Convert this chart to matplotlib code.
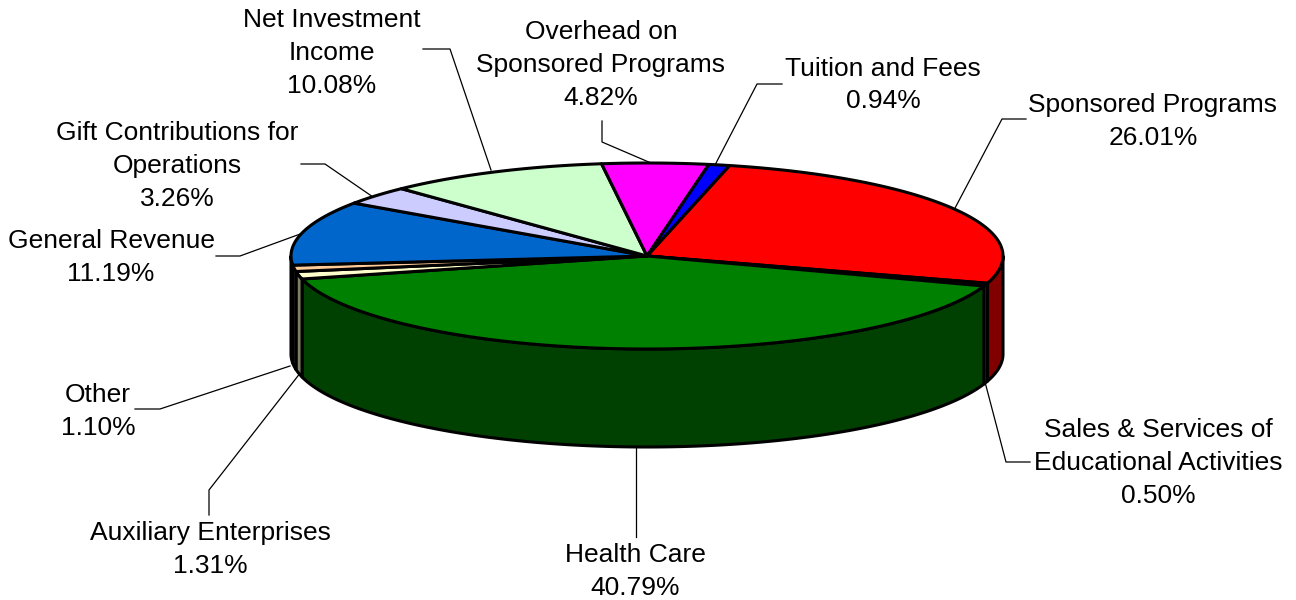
import numpy as np
import matplotlib
matplotlib.use('Agg')
import matplotlib.pyplot as plt

plt.rcParams['font.family'] = ['Liberation Sans', 'DejaVu Sans']

# clockwise order, starting at the Sponsored Programs slice
labels = ['Sponsored Programs', 'Sales & Services of\nEducational Activities', 'Health Care',
          'Auxiliary Enterprises', 'Other', 'General Revenue',
          'Gift Contributions for\nOperations', 'Net Investment\nIncome',
          'Overhead on\nSponsored Programs', 'Tuition and Fees']
shares = [26.01, 0.50, 40.79, 1.31, 1.10, 11.19, 3.26, 10.08, 4.82, 0.94]
top_colors = ['#ff0000', '#ffff99', '#008000', '#ffffcc', '#ffcc99',
              '#0066cc', '#ccccff', '#ccffcc', '#ff00ff', '#0000ff']
wall_colors = ['#800000', '#808000', '#004000', '#808066', '#806650',
               '#003366', '#666680', '#668066', '#800080', '#000080']

label_xy = [(1153, 121.5), (1158, 463), (635, 571.5), (210, 549.5), (98, 411.5),
            (111, 257.5), (177, 166), (332, 53), (601, 65), (883, 85)]
leaders = [[(1026, 119), (1002, 119), (954, 210)],
           [(1030, 462), (1006, 462), (985, 382)],
           [(636, 537), (636, 445)],
           [(209, 515), (209, 490), (301, 372)],
           [(135, 409), (160, 409), (290, 366)],
           [(216, 256), (240, 256), (303, 233)],
           [(301, 164), (325, 164), (373, 197)],
           [(423, 49), (450, 49), (491, 170)],
           [(602, 121), (602, 142), (651, 163)],
           [(782, 84), (757, 84), (715, 165)]]

cx, cy = 647, 256
rx, ry = 356, 93
depth = 98
start = 13.4  # degrees clockwise from 12 o'clock


def arc(a0, a1, dy=0):
    t = np.radians(np.linspace(a0, a1, max(int(abs(a1 - a0) * 2), 2)))
    return cx + rx * np.sin(t), cy - ry * np.cos(t) + dy


fig = plt.figure(figsize=(12.96, 6), dpi=100)
ax = fig.add_axes([0, 0, 1, 1])
ax.set_xlim(0, 1296)
ax.set_ylim(600, 0)
ax.axis('off')

for pts in leaders:
    ax.plot([p[0] for p in pts], [p[1] for p in pts], color='black', lw=0.9, zorder=1)

edges = start + np.cumsum([0] + shares) * 3.6

# side wall, only the front half of the cylinder shows
for i in range(len(shares)):
    a0, a1 = max(edges[i], 90), min(edges[i + 1], 270)
    if a0 >= a1:
        continue
    x1, y1 = arc(a0, a1)
    x2, y2 = arc(a1, a0, depth)
    ax.fill(np.r_[x1, x2], np.r_[y1, y2], facecolor=wall_colors[i], edgecolor='black',
            lw=2.2, joinstyle='round', zorder=2)

# top face
for i in range(len(shares)):
    x, y = arc(edges[i], edges[i + 1])
    ax.fill(np.r_[cx, x], np.r_[cy, y], facecolor=top_colors[i], edgecolor='black',
            lw=2.2, joinstyle='round', zorder=3)

for name, share, (lx, ly) in zip(labels, shares, label_xy):
    ax.text(lx, ly, f'{name}\n{share:.2f}%', ha='center', va='center', fontsize=19,
            linespacing=1.45, color='black', zorder=4)

fig.savefig('out.png', dpi=100)
